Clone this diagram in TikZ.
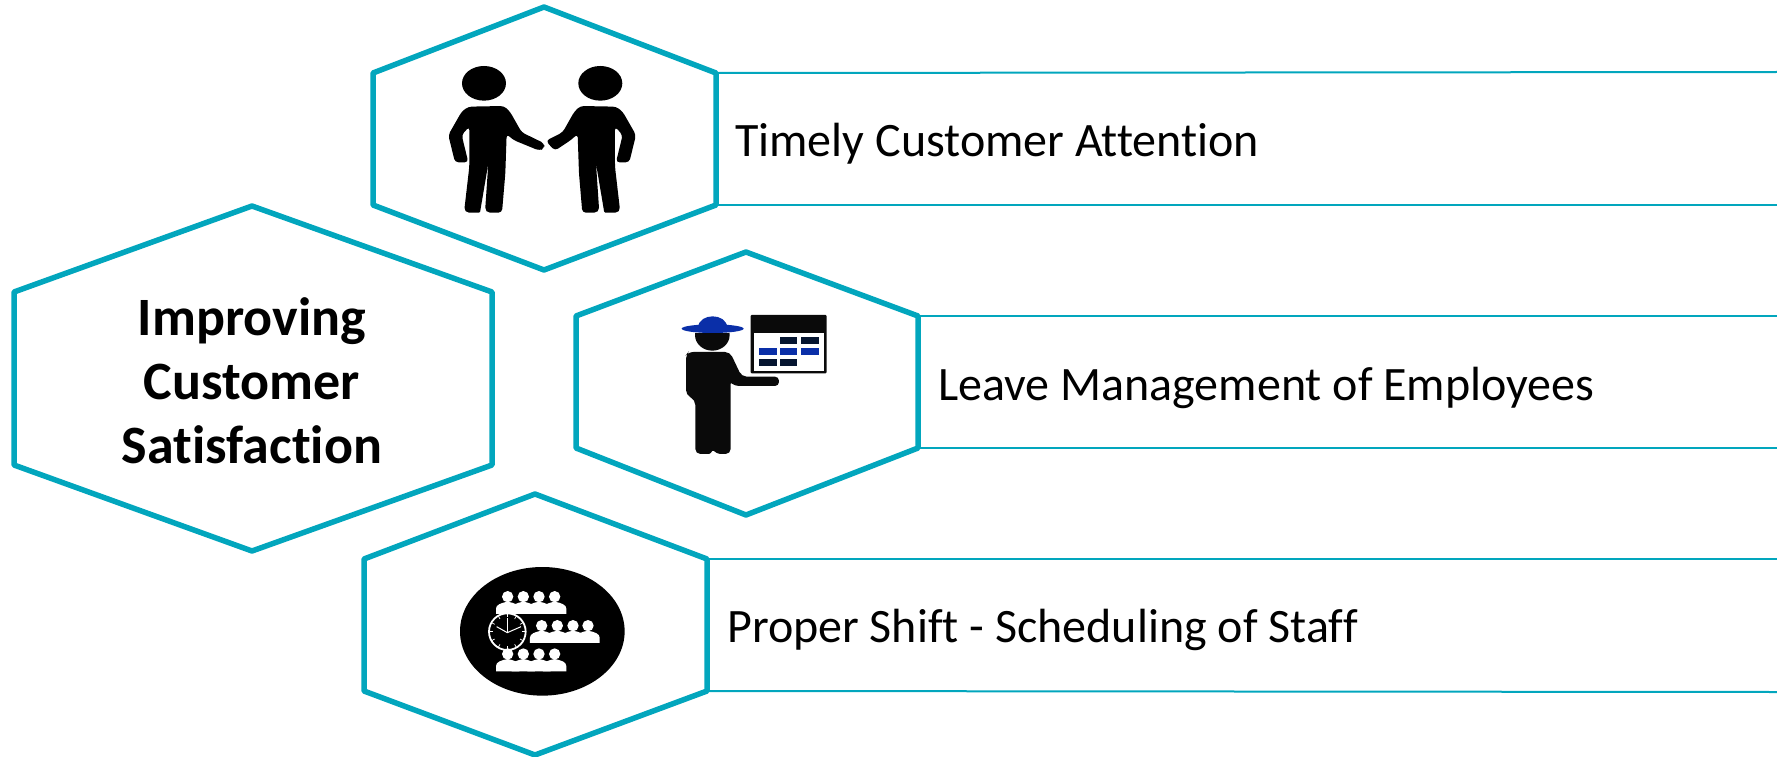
\documentclass[tikz,border=0pt]{standalone}
\usepackage{fontspec}
\setmainfont{Carlito}[Ligatures=CommonOff]
\usetikzlibrary{calc}
\definecolor{hexteal}{HTML}{02A6BD}
\definecolor{hatblue}{HTML}{0A2FA8}
\definecolor{cellnavy}{HTML}{051530}
\definecolor{iconblack}{HTML}{0A0A0A}
\tikzstyle{hexline} = [draw=hexteal, line width=5.5pt, line join=round]
\tikzstyle{ruleline} = [draw=hexteal, line width=2pt]
\tikzstyle{itemlabel} = [anchor=base west, inner sep=0, font=\fontsize{48}{48}\selectfont]
\tikzstyle{titlelabel} = [anchor=base, inner sep=0, font=\fontsize{54}{54}\selectfont\bfseries]
\newcommand{\handfigure}[3]{
    \fill[rounded corners=3.5pt] (325,320) -- (432,318) -- (450,335) -- (485,397) -- (#1,#2) -- (#3,#2+15) -- (#3-15,452) -- (460,420) -- (440,402) -- (436,520) -- (426,638) [rounded corners=5pt] -- (375,638) [rounded corners=1pt] -- (385,490) -- (360,638) [rounded corners=5pt] -- (312,638) [rounded corners=3.5pt] -- (328,500) -- (328,380) -- (305,405) -- (325,487) -- (285,487) -- (265,405) -- (305,335) -- cycle;
    \fill (372,250) ellipse [x radius=66, y radius=52];
}
\begin{document}
\begin{tikzpicture}[x=1pt, y=-1pt]
\useasboundingbox (0,0) rectangle (1777,757);

\draw[hexline] (544,7) -- (716,73) coordinate (timelyupper) -- (716,205) coordinate (timelylower) -- (544,270) -- (373,205) -- (373,73) -- cycle;
\draw[hexline] (252,206) -- (492,292) -- (492,465) -- (252,551) -- (14,465) -- (14,292) -- cycle;
\draw[hexline] (746,252) -- (918,316) coordinate (leaveupper) -- (918,448) coordinate (leavelower) -- (746,515) -- (576,448) -- (576,316) -- cycle;
\draw[hexline] (535,494) -- (707,559) coordinate (shiftupper) -- (707,691) coordinate (shiftlower) -- (535,755) -- (364,691) -- (364,559) -- cycle;

\coordinate (timelyupperend) at (1777,72);
\coordinate (timelylowerend) at (1777,205);
\coordinate (leaveupperend) at (1777,316);
\coordinate (leavelowerend) at (1777,448);
\coordinate (shiftupperend) at (1777,559);
\coordinate (shiftlowerend) at (1777,692);
\draw[ruleline] (timelyupper) -- (timelyupperend);
\draw[ruleline] (timelylower) -- (timelylowerend);
\draw[ruleline] (leaveupper) -- (leaveupperend);
\draw[ruleline] (leavelower) -- (leavelowerend);
\draw[ruleline] (shiftupper) -- (shiftupperend);
\draw[ruleline] (shiftlower) -- (shiftlowerend);

\node[itemlabel] (timely) at (735,157) {Timely Customer Attention};
\node[itemlabel] (leave) at (938,400) {Leave Management of Employees};
\node[itemlabel] (shift) at (727,642) {Proper Shift - Scheduling of Staff};
\node[titlelabel] (improving) at (252,335) {Improving};
\node[titlelabel] (customer) at (252,399) {Customer};
\node[titlelabel] (satisfaction) at (252,463) {Satisfaction};

% handshake
\begin{scope}[shift={(360,0)}, x=0.3333pt, y=-0.3333pt]
    \handfigure{553}{430}{553}
    \begin{scope}[shift={(1093,0)}, xscale=-1]
        \handfigure{535}{422}{523}
    \end{scope}
\end{scope}

% worker and leave board
\begin{scope}[shift={(640,280)}, x=0.3333pt, y=-0.3333pt]
    \fill[iconblack] (217,165) ellipse [x radius=52, y radius=47];
    \fill[white] (150,140) rectangle (285,158);
    \fill[hatblue] (218,146) ellipse [x radius=93, y radius=13];
    \fill[hatblue] (174,142) .. controls (178,98) and (258,98) .. (262,142) -- cycle;
    \fill[iconblack, rounded corners=5pt] (145,216) -- (270,216) -- (305,290) [rounded corners=4pt] -- (417,290) -- (417,318) -- (285,318) [rounded corners=1pt] -- (272,308) [rounded corners=5pt] -- (272,522) -- (228,522) [rounded corners=1pt] -- (219,510) -- (210,522) [rounded corners=5pt] -- (166,522) -- (166,360) -- (138,345) -- (138,225) -- cycle;
    \fill[iconblack, rounded corners=1pt] (332,105) rectangle (560,280);
    \fill[white] (343,158) rectangle (552,272);
    \foreach \cx/\cy in {420/170, 484/170, 358/236, 420/236}
        \fill[cellnavy] (\cx,\cy) rectangle ++(52,23);
    \foreach \cx in {358, 420, 484}
        \fill[hatblue] (\cx,203) rectangle ++(52,23);
\end{scope}

% shift roster
\begin{scope}[shift={(440,550)}, x=0.3333pt, y=-0.3333pt]
    \fill[black] (307,244) ellipse [x radius=247, y radius=193];
    \foreach \px/\py in {203/140, 250/140, 297/140, 344/140, 305/227, 352/227, 399/227, 444/227, 203/312, 250/312, 297/312, 344/312} {
        \fill[white] (\px,\py) circle (17);
        \fill[white] (\px-35,\py+52) -- (\px-35,\py+36) .. controls (\px-35,\py+24) and (\px-20,\py+19) .. (\px,\py+15) .. controls (\px+20,\py+19) and (\px+35,\py+24) .. (\px+35,\py+36) -- (\px+35,\py+52) -- cycle;
    }
    \draw[white, line width=1.8pt] (202,245) circle (55);
    \foreach \ang in {0,30,...,330}
        \draw[white, line width=0.7pt] ($(202,245)+(\ang:44)$) -- ($(202,245)+(\ang:53)$);
    \draw[white, line width=1pt] (170,230) -- (202,248) -- (243,230);
    \draw[white, line width=1pt] (202,205) -- (202,248);
\end{scope}
\end{tikzpicture}
\end{document}
